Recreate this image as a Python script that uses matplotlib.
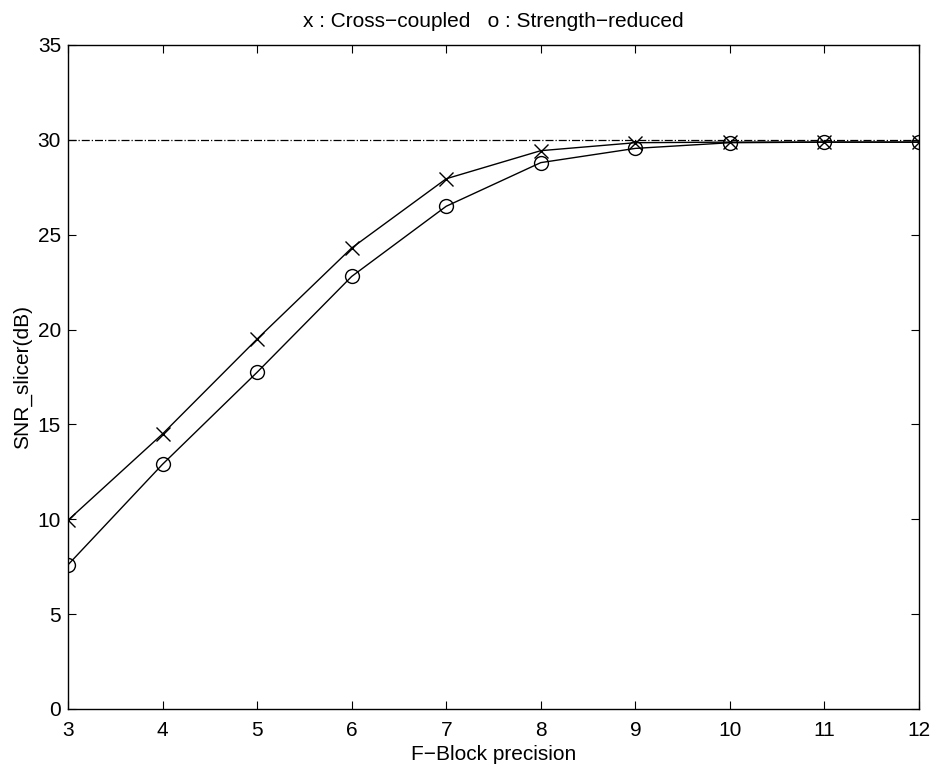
import matplotlib.pyplot as plt

# F-Block precision (bits)
precision = [3, 4, 5, 6, 7, 8, 9, 10, 11, 12]
# SNR at the slicer (dB)
snr_cross = [9.95, 14.5, 19.5, 24.3, 27.95, 29.43, 29.85, 29.88, 29.88, 29.88]
snr_strength = [7.6, 12.9, 17.75, 22.8, 26.5, 28.8, 29.55, 29.85, 29.88, 29.88]
snr_ideal = 30.0

plt.rcParams['font.family'] = ['Liberation Sans', 'DejaVu Sans']

fig = plt.figure(figsize=(9.33, 7.66), dpi=100)
ax = fig.add_axes([68 / 933, 1 - 709 / 766, (919 - 68) / 933, (709 - 45) / 766])

ax.axhline(snr_ideal, color='black', linestyle='-.', linewidth=0.9)
ax.plot(precision, snr_cross, color='black', linewidth=1.0, marker='x',
        markersize=10, markeredgewidth=1.0)
ax.plot(precision, snr_strength, color='black', linewidth=1.0, marker='o',
        markersize=10, markeredgewidth=1.0, fillstyle='none')

ax.set_xlim(3, 12)
ax.set_ylim(0, 35)
ax.set_xticks(precision)
ax.set_yticks(range(0, 36, 5))
ax.tick_params(direction='in', top=True, right=True, length=6, labelsize=15)
ax.tick_params(axis='x', pad=9)
ax.tick_params(axis='y', pad=5)
for s in ax.spines.values():
    s.set_linewidth(1.0)

ax.set_xlabel('F\u2212Block precision', fontsize=15, labelpad=3)
ax.set_ylabel('SNR_slicer(dB)', fontsize=15, labelpad=4)
ax.set_title('x : Cross\u2212coupled   o : Strength\u2212reduced', fontsize=15, pad=13)

fig.savefig('out.png', dpi=100)
